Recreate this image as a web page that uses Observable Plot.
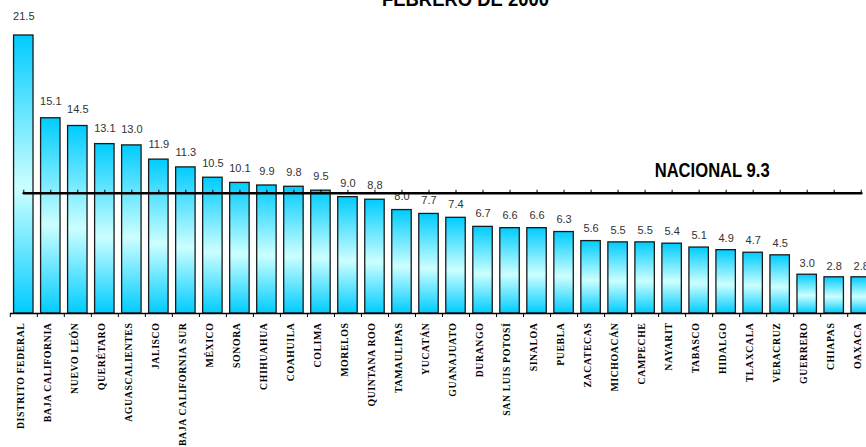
<!DOCTYPE html>
<html>
<head>
<meta charset="utf-8">
<script src="https://cdn.jsdelivr.net/npm/d3@7"></script>
<script src="https://cdn.jsdelivr.net/npm/@observablehq/plot@0.6"></script>
<style>
  html, body { margin: 0; padding: 0; background: #fff; overflow: hidden; }
  #chart svg { display: block; }
</style>
</head>
<body>
<div id="chart"></div>
<script>
const states = ["DISTRITO FEDERAL","BAJA CALIFORNIA","NUEVO LEÓN","QUERÉTARO","AGUASCALIENTES","JALISCO","BAJA CALIFORNIA SUR","MÉXICO","SONORA","CHIHUAHUA","COAHUILA","COLIMA","MORELOS","QUINTANA ROO","TAMAULIPAS","YUCATÁN","GUANAJUATO","DURANGO","SAN LUIS POTOSÍ","SINALOA","PUEBLA","ZACATECAS","MICHOACÁN","CAMPECHE","NAYARIT","TABASCO","HIDALGO","TLAXCALA","VERACRUZ","GUERRERO","CHIAPAS","OAXACA"];
const values = [21.5,15.1,14.5,13.1,13.0,11.9,11.3,10.5,10.1,9.9,9.8,9.5,9.0,8.8,8.0,7.7,7.4,6.7,6.6,6.6,6.3,5.6,5.5,5.5,5.4,5.1,4.9,4.7,4.5,3.0,2.8,2.8];
const nationalValue = 9.3;
const nationalLabel = "NACIONAL 9.3";
const titleText = "FEBRERO DE 2000";

const data = states.map((s, i) => ({state: s, value: values[i]}));
const natLine = [{state: states[0], value: nationalValue}, {state: states[states.length - 1], value: nationalValue}];

const sans = "'Liberation Sans', Arial, sans-serif";
const serif = "'Liberation Serif', 'Times New Roman', serif";

const svg = Plot.plot({
  width: 866,
  height: 447,
  marginLeft: 6,
  marginRight: -12,
  marginTop: 35,
  marginBottom: 134,
  style: {maxWidth: "none", background: "#fff"},
  x: {domain: states, padding: 0.28, round: false, axis: null},
  y: {domain: [0, 21.5], axis: null},
  marks: [
    Plot.barY(data, {x: "state", y: "value", fill: "url(#barGrad)", stroke: "#1a1a1a", strokeWidth: 1.3}),
    Plot.text(data, {x: "state", y: d => d.value * 1.034 + 0.5, text: d => d.value.toFixed(1), lineAnchor: "bottom", fontSize: 11, fontFamily: sans, fill: "#333"}),
    Plot.ruleY([0], {stroke: "#000", strokeWidth: 1.5, insetLeft: 4}),
    Plot.ruleX(states, {x: d => d, y1: 0, y2: 0, insetBottom: -4, dx: -13.5, stroke: "#000", strokeWidth: 1}),
    Plot.text(states, {x: d => d, frameAnchor: "bottom", dy: 9, rotate: -90, textAnchor: "end", fontSize: 9.8, fontWeight: "bold", fontFamily: serif, fill: "#000"}),
    Plot.line(natLine, {x: "state", y: "value", stroke: "#000", strokeWidth: 2.7}),
    Plot.ruleX(states, {x: d => d, y1: nationalValue, y2: nationalValue, insetTop: -3, stroke: "#000", strokeWidth: 1}),
    Plot.text([nationalLabel], {x: () => "HIDALGO", y: () => nationalValue, dx: -14, dy: -16, lineAnchor: "bottom", fontSize: 21, fontWeight: "bold", fontFamily: sans, fill: "#000"}),
    Plot.text([titleText], {frameAnchor: "top", dx: 23, dy: -30, lineAnchor: "bottom", fontSize: 21, fontWeight: "bold", fontFamily: sans, fill: "#000"})
  ]
});

// gradient definition for bars
const ns = "http://www.w3.org/2000/svg";
const defs = document.createElementNS(ns, "defs");
const grad = document.createElementNS(ns, "linearGradient");
grad.setAttribute("id", "barGrad");
grad.setAttribute("x1", "0"); grad.setAttribute("y1", "0");
grad.setAttribute("x2", "0"); grad.setAttribute("y2", "1");
[[0, "#00ccff"], [0.55, "#ccffff"], [1, "#00ccff"]].forEach(([o, c]) => {
  const st = document.createElementNS(ns, "stop");
  st.setAttribute("offset", o);
  st.setAttribute("stop-color", c);
  grad.appendChild(st);
});
defs.appendChild(grad);
svg.insertBefore(defs, svg.firstChild);

const stateSet = new Set(states);
svg.querySelectorAll("text").forEach(t => {
  const s = t.textContent;
  if (stateSet.has(s)) t.style.letterSpacing = "0.6px";
  if (s === nationalLabel) { t.setAttribute("textLength", 115); t.setAttribute("lengthAdjust", "spacingAndGlyphs"); }
  if (s === titleText) { t.setAttribute("textLength", 167); t.setAttribute("lengthAdjust", "spacingAndGlyphs"); }
});

document.getElementById("chart").appendChild(svg);
</script>
</body>
</html>
